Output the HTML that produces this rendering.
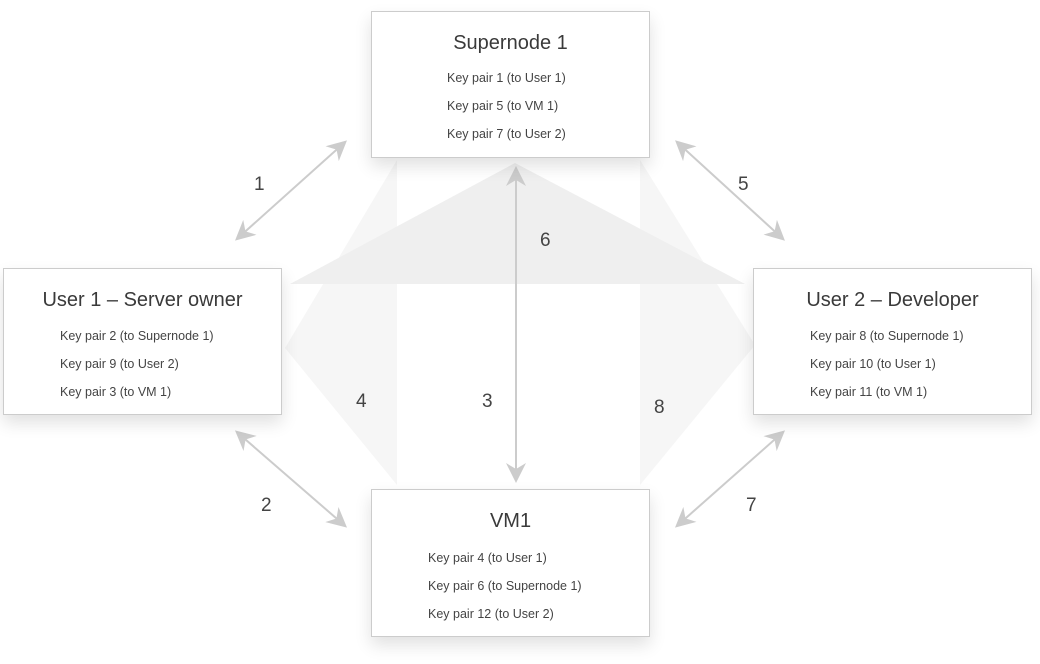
<!DOCTYPE html>
<html><head><style>
body{margin:0;width:1040px;height:664px;background:#fff;position:relative;overflow:hidden;font-family:"Segoe UI","Liberation Sans",sans-serif;color:#333}
.box{position:absolute;background:#fff;border:1px solid #ccc;box-shadow:0 8px 16px rgba(0,0,0,.12);box-sizing:border-box}
.t{position:absolute;left:0;right:0;text-align:center;font-size:20px;color:#3a3a3a;top:20px}
.k{position:absolute;font-size:12.5px;color:#444;line-height:28px}
.n{position:absolute;font-size:19px;color:#444}
</style></head><body>
<svg width="1040" height="664" style="position:absolute;left:0;top:0">
<polygon points="397,160 285,348 397,485" fill="#f6f6f6"/>
<polygon points="640,160 755,345 640,485" fill="#f6f6f6"/>
<polygon points="290,284 515,163 745,284" fill="#efefef"/>
<defs><marker id="a" viewBox="0 0 10 10" refX="8" refY="5" markerWidth="10" markerHeight="10" orient="auto-start-reverse"><path d="M0,0 L10,5 L0,10 L3,5z" fill="#ccc"/></marker></defs>
<g stroke="#ccc" stroke-width="2" fill="none" marker-start="url(#a)" marker-end="url(#a)">
<line x1="344" y1="143" x2="238" y2="238"/>
<line x1="238" y1="433" x2="344" y2="525"/>
<line x1="678" y1="143" x2="782" y2="238"/>
<line x1="782" y1="433" x2="678" y2="525"/>
<line x1="516" y1="170" x2="516" y2="479"/>
</g>
</svg>
<div class="n" style="left:254px;top:174px">1</div>
<div class="n" style="left:738px;top:174px">5</div>
<div class="n" style="left:540px;top:230px">6</div>
<div class="n" style="left:356px;top:391px">4</div>
<div class="n" style="left:482px;top:391px">3</div>
<div class="n" style="left:654px;top:397px">8</div>
<div class="n" style="left:261px;top:495px">2</div>
<div class="n" style="left:746px;top:495px">7</div>
<div class="box" style="left:371px;top:11px;width:279px;height:147px"><div class="t">Supernode 1</div>
<div class="k" style="left:75px;top:52px">Key pair 1 (to User 1)<br>Key pair 5 (to VM 1)<br>Key pair 7 (to User 2)</div></div>
<div class="box" style="left:3px;top:268px;width:279px;height:147px"><div class="t">User 1 – Server owner</div>
<div class="k" style="left:56px;top:53px">Key pair 2 (to Supernode 1)<br>Key pair 9 (to User 2)<br>Key pair 3 (to VM 1)</div></div>
<div class="box" style="left:753px;top:268px;width:279px;height:147px"><div class="t">User 2 – Developer</div>
<div class="k" style="left:56px;top:53px">Key pair 8 (to Supernode 1)<br>Key pair 10 (to User 1)<br>Key pair 11 (to VM 1)</div></div>
<div class="box" style="left:371px;top:489px;width:279px;height:148px"><div class="t">VM1</div>
<div class="k" style="left:56px;top:54px">Key pair 4 (to User 1)<br>Key pair 6 (to Supernode 1)<br>Key pair 12 (to User 2)</div></div>
</body></html>
